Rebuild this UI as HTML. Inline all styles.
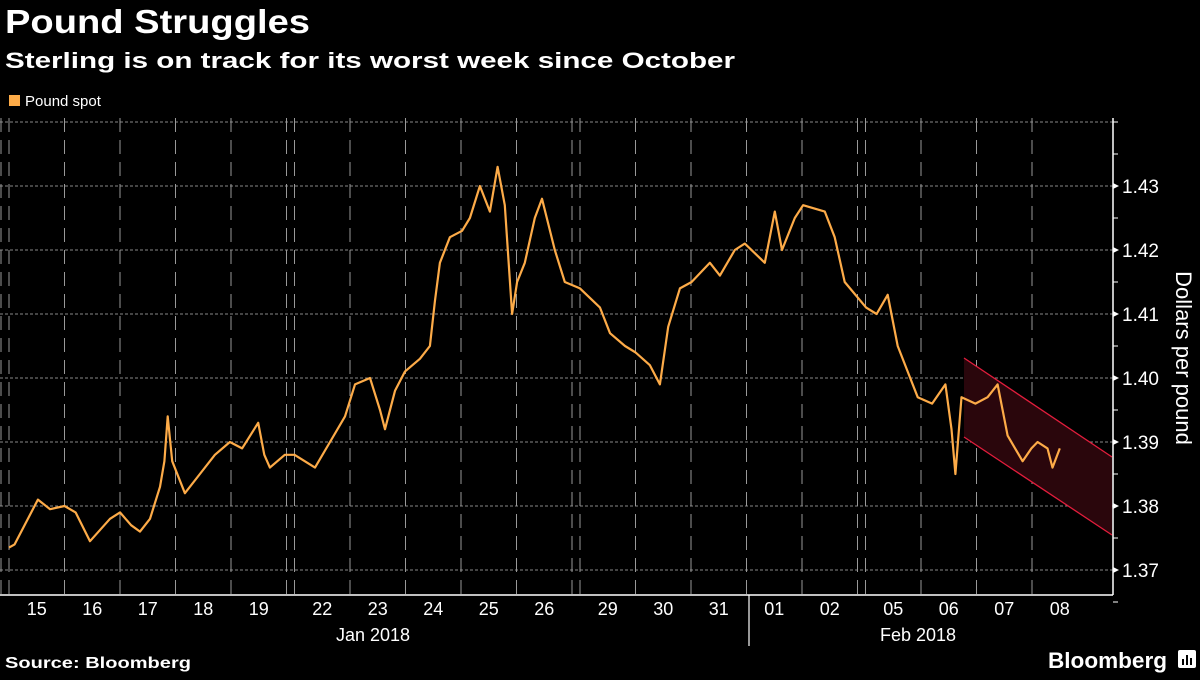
<!DOCTYPE html>
<html><head><meta charset="utf-8"><style>
body{margin:0;background:#000;width:1200px;height:675px;overflow:hidden;font-family:"Liberation Sans",sans-serif;color:#fff}
</style></head><body>
<svg width="1200" height="675" xmlns="http://www.w3.org/2000/svg">
<text x="5" y="33" font-size="33" font-weight="bold" fill="#fff" textLength="305" lengthAdjust="spacingAndGlyphs">Pound Struggles</text>
<text x="5" y="68" font-size="22" font-weight="bold" fill="#fff" textLength="730" lengthAdjust="spacingAndGlyphs">Sterling is on track for its worst week since October</text>
<rect x="9" y="95" width="11" height="11" fill="#fdab48"/>
<text x="25" y="106" font-size="15" fill="#fff">Pound spot</text>
<g id="grid"></g>
<polygon points="964,358 1112,457 1112,535 964,437" fill="#2a060c"/>
<line x1="964" y1="358" x2="1112" y2="457" stroke="#e21d3c" stroke-width="1.3"/>
<line x1="964" y1="437" x2="1112" y2="535" stroke="#e21d3c" stroke-width="1.3"/>
<g id="series"></g>
<line x1="1113" y1="118" x2="1113" y2="595" stroke="#fff" stroke-width="1.5"/>
<line x1="0" y1="595" x2="1113" y2="595" stroke="#fff" stroke-width="1.5"/>
<g id="axes"></g>
<text transform="translate(1176,358) rotate(90)" text-anchor="middle" font-size="22" fill="#fff">Dollars per pound</text>
<line x1="749" y1="595" x2="749" y2="646" stroke="#fff" stroke-width="1.2"/>
<text x="373" y="641" text-anchor="middle" font-size="18" fill="#fff">Jan 2018</text>
<text x="918" y="641" text-anchor="middle" font-size="18" fill="#fff">Feb 2018</text>
<text x="5" y="668" font-size="16" font-weight="bold" fill="#fff" textLength="186" lengthAdjust="spacingAndGlyphs">Source: Bloomberg</text>
<text x="1048" y="668" font-size="22" font-weight="bold" fill="#fff" textLength="119" lengthAdjust="spacingAndGlyphs">Bloomberg</text>
<g><rect x="1178" y="650" width="18" height="18" rx="2" fill="#fff"/><rect x="1182" y="659" width="2" height="6" fill="#000"/><rect x="1186" y="655" width="2" height="10" fill="#000"/><rect x="1190" y="658" width="2" height="7" fill="#000"/></g>
</svg>
<script>
const dayLabels=["15","16","17","18","19","22","23","24","25","26","29","30","31","01","02","05","06","07","08"];
const weekendAfter=[4,9,14];
const yTicks=[1.37,1.38,1.39,1.40,1.41,1.42,1.43];
// time in fractional trading-day index, value in USD per GBP
const times=[0,0.1,0.52,0.74,1.0,1.2,1.46,1.82,2.0,2.2,2.36,2.54,2.72,2.8,2.86,2.94,3.17,3.44,3.71,3.98,4.2,4.49,4.6,4.7,4.97,5.0,5.37,5.64,5.91,6.09,6.36,6.54,6.63,6.81,6.99,7.26,7.44,7.53,7.62,7.8,8.02,8.16,8.34,8.52,8.66,8.79,8.92,9.01,9.15,9.33,9.46,9.69,9.87,10.0,10.36,10.54,10.81,11.0,11.26,11.44,11.59,11.8,12.01,12.34,12.52,12.79,12.97,13.33,13.51,13.64,13.87,14.02,14.41,14.59,14.77,15.01,15.2,15.4,15.58,15.76,15.94,16.2,16.44,16.55,16.62,16.73,16.98,17.2,17.38,17.56,17.83,17.99,18.1,18.28,18.37,18.5];
const values=[1.3735,1.374,1.381,1.3795,1.380,1.379,1.3745,1.378,1.379,1.377,1.376,1.378,1.383,1.387,1.394,1.387,1.382,1.385,1.388,1.390,1.389,1.393,1.388,1.386,1.388,1.388,1.386,1.390,1.394,1.399,1.400,1.395,1.392,1.398,1.401,1.403,1.405,1.412,1.418,1.422,1.423,1.425,1.430,1.426,1.433,1.427,1.410,1.415,1.418,1.425,1.428,1.420,1.415,1.414,1.411,1.407,1.405,1.404,1.402,1.399,1.408,1.414,1.415,1.418,1.416,1.420,1.421,1.418,1.426,1.420,1.425,1.427,1.426,1.422,1.415,1.411,1.410,1.413,1.405,1.401,1.397,1.396,1.399,1.392,1.385,1.397,1.396,1.397,1.399,1.391,1.387,1.389,1.390,1.389,1.386,1.389];
const X0=9,DW=55.5,WG=8;
function xScale(t){let g=0;for(const w of weekendAfter)if(t>w+1-1e-6)g+=WG;return X0+t*DW+g;}
function yScale(v){return 570-(v-1.37)*6400;}
const NS="http://www.w3.org/2000/svg";
function mk(tag,at,parent){const e=document.createElementNS(NS,tag);for(const k in at)e.setAttribute(k,at[k]);parent.appendChild(e);return e;}
const grid=document.getElementById('grid'),axes=document.getElementById('axes'),ser=document.getElementById('series');
for(let v=1.37;v<=1.4401;v+=0.01){const y=yScale(v);
const l=mk('line',{x1:0,y1:y,x2:1113,y2:y,stroke:'#888','stroke-width':1,'stroke-dasharray':'3,2'},grid);

}
for(let i=0;i<=dayLabels.length;i++){const xs=[xScale(i)-(weekendAfter.includes(i-1)?WG:0)];
if(weekendAfter.includes(i-1))xs.push(xScale(i));if(i===0)xs.unshift(1);
for(const x of xs){if(x>1080)continue;
const l=mk('line',{x1:x,y1:118,x2:x,y2:595,stroke:'#999','stroke-width':1,'stroke-dasharray':'14,8'},grid);

}}
dayLabels.forEach((d,i)=>{const t=mk('text',{x:xScale(i+0.5),y:615,'text-anchor':'middle','font-size':18,fill:'#fff'},axes);t.textContent=d;

});
for(let v=1.365;v<=1.4401;v+=0.005){const y=yScale(v);
const l=mk('line',{x1:1113,y1:y,x2:1118,y2:y,stroke:'#fff','stroke-width':1},axes);

}
yTicks.forEach(v=>{const y=yScale(v);
const p=mk('polygon',{points:`1113,${y-3} 1119,${y} 1113,${y+3}`,fill:'#fff'},axes);


const t=mk('text',{x:1122,y:y+7,'font-size':19,fill:'#fff'},axes);t.textContent=v.toFixed(2);

});
const pts=times.map((t,i)=>xScale(t).toFixed(1)+','+yScale(values[i]).toFixed(1)).join(' ');
const pl=mk('polyline',{points:pts,fill:'none',stroke:'#fdab48','stroke-width':2.2,'stroke-linejoin':'round'},ser);


</script>
</body></html>
